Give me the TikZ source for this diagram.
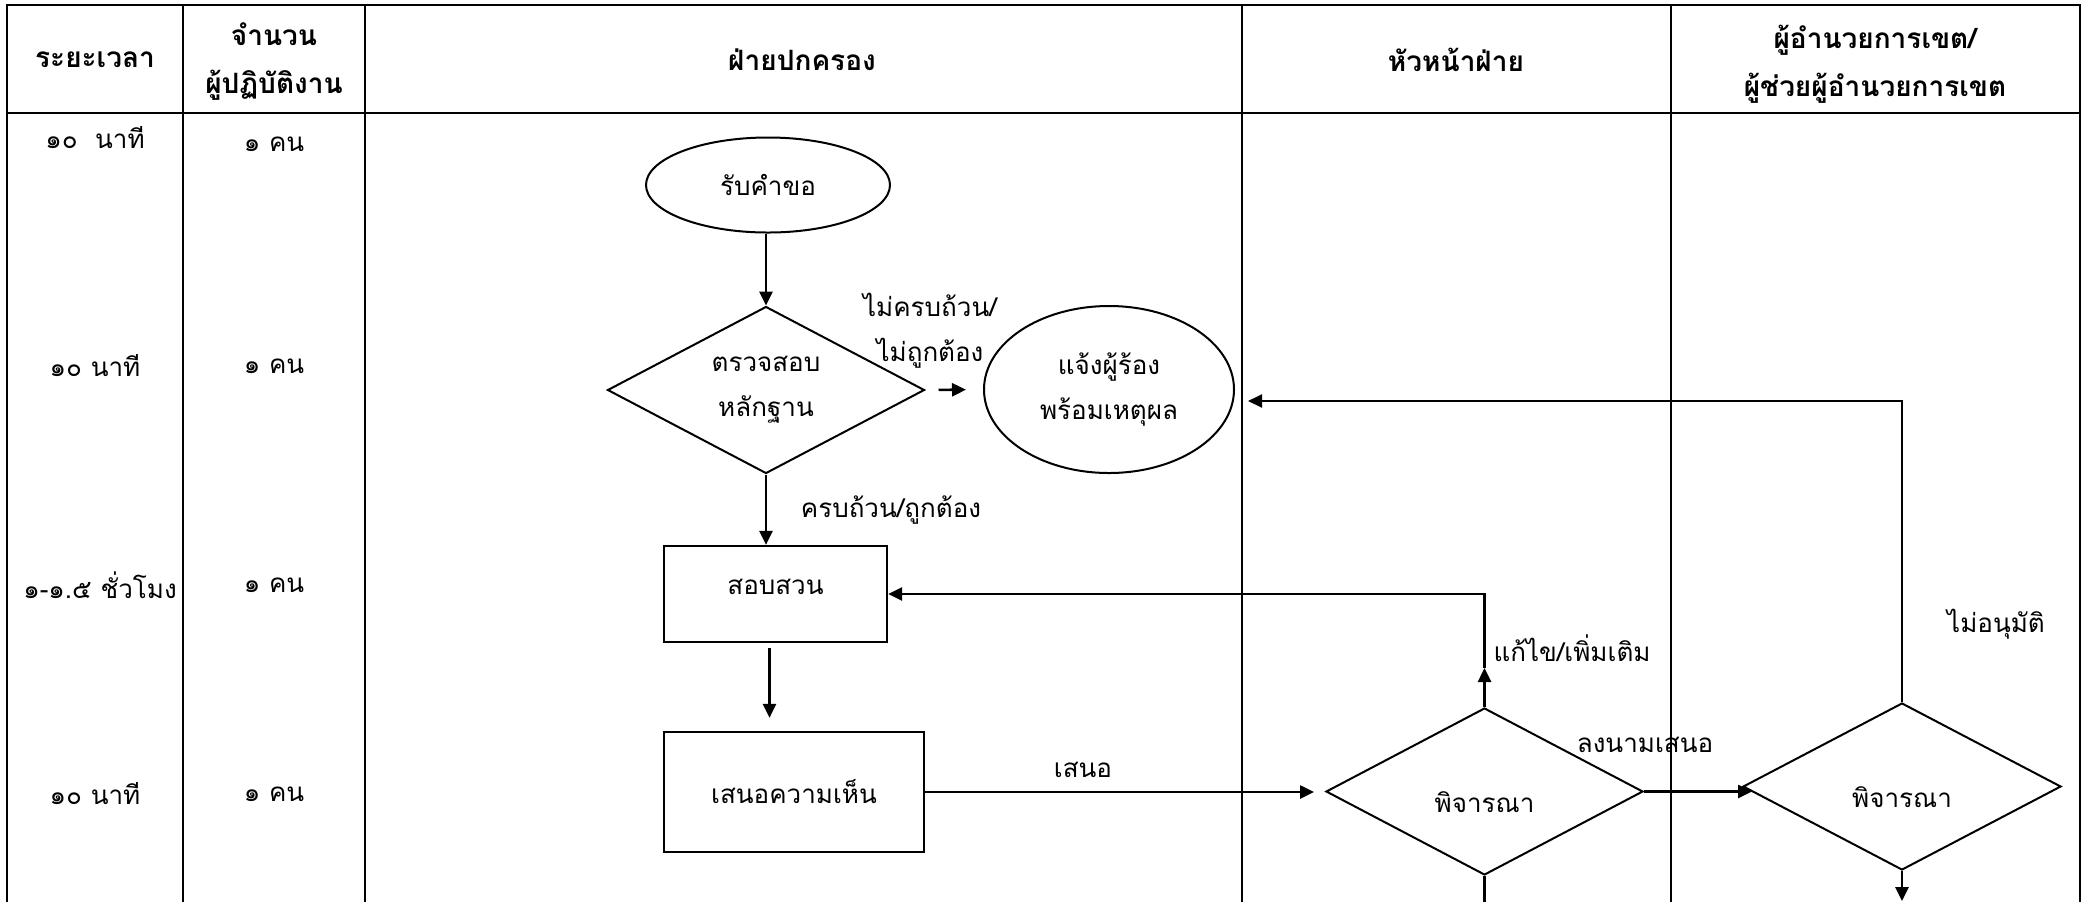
\documentclass[tikz,border=0pt]{standalone}
\usepackage{fontspec}
\setmainfont[Script=Thai]{Loma}
\usetikzlibrary{arrows.meta,shapes.geometric,calc}
\begin{document}
\begin{tikzpicture}[x=0.5pt,y=-0.5pt,
  tbl/.style={line width=1.2pt},
  txt/.style={inner sep=0pt, align=center, font=\fontsize{13}{22.5}\selectfont},
  hdr/.style={txt, font=\fontsize{14}{24}\selectfont\bfseries},
  lbl/.style={txt},
  ell/.style={txt, draw, line width=1pt, shape=ellipse},
  dia/.style={txt, draw, line width=1pt, shape=diamond, shape aspect=1.9},
  box/.style={txt, draw, line width=1.1pt, shape=rectangle},
  conn/.style={line width=1.3pt},
  arr/.style={conn, -{Triangle[length=7pt,width=6.5pt]}},
]
\useasboundingbox (0,0) rectangle (2085,902);
% table
\draw[tbl] (7,902) -- (7,5) -- (2080,5) -- (2080,902);
\draw[tbl] (7,113) -- (2080,113);
\foreach \x in {183,365,1242,1671} \draw[tbl] (\x,5) -- (\x,902);
% headers
\node[hdr] (h1) at (95,60) {ระยะเวลา};
\node[hdr] (h2) at (274,62) {จำนวน\\ผู้ปฏิบัติงาน};
\node[hdr] (h3) at (802,60) {ฝ่ายปกครอง};
\node[hdr] (h4) at (1456,60) {หัวหน้าฝ่าย};
\node[hdr] (h5) at (1875,64) {ผู้อำนวยการเขต/\\ผู้ช่วยผู้อำนวยการเขต};
% time column
\node[txt] (t1) at (95,138) {๑๐\ \ นาที};
\node[txt] (t2) at (95,366) {๑๐ นาที};
\node[txt] (t3) at (100,585) {๑-๑.๕ ชั่วโมง};
\node[txt] (t4) at (95,794) {๑๐ นาที};
% staff column
\node[txt] (p1) at (274,144) {๑ คน};
\node[txt] (p2) at (274,366) {๑ คน};
\node[txt] (p3) at (274,585) {๑ คน};
\node[txt] (p4) at (274,794) {๑ คน};
% flow nodes
\node[ell, minimum width=122pt, minimum height=47.5pt] (rcv) at (768,185) {รับคำขอ};
\node[dia, minimum width=158.5pt, minimum height=83.5pt] (chk) at (766,390) {ตรวจสอบ\\หลักฐาน};
\node[ell, minimum width=125pt, minimum height=83.5pt] (ntf) at (1109,389.5) {แจ้งผู้ร้อง\\พร้อมเหตุผล};
\node[box, minimum width=111.5pt, minimum height=48pt, text depth=7pt] (inv) at (775.5,594) {สอบสวน};
\node[box, minimum width=130pt, minimum height=60pt] (opn) at (794,792) {เสนอความเห็น};
\node[dia, minimum width=158.5pt, minimum height=83.5pt, text height=21pt, text depth=0pt] (hd) at (1484.5,791.5) {พิจารณา};
\node[dia, minimum width=159pt, minimum height=83.5pt, text height=21pt, text depth=0pt] (dir) at (1902,786.5) {พิจารณา};
% labels
\node[lbl] (l1) at (930,331) {ไม่ครบถ้วน/\\ไม่ถูกต้อง};
\node[lbl] (l2) at (891,510) {ครบถ้วน/ถูกต้อง};
\node[lbl] (l3) at (1083,770) {เสนอ};
\node[lbl] (l4) at (1572,648) {แก้ไข/เพิ่มเติม};
\node[lbl] (l5) at (1645,745) {ลงนามเสนอ};
\node[lbl] (l6) at (1996,624) {ไม่อนุมัติ};
% coordinates
\coordinate (up) at (1484.5,668);
\coordinate (hdb) at (1484.5,902);
\coordinate (dirb) at (1902,901);
\coordinate (nr) at ($(ntf.east)+(13,11.5)$);
% connectors
\draw[arr] (rcv.south -| chk.north) -- (chk.north);
\draw[arr, shorten <=6.5pt, shorten >=8.5pt] (chk.east) -- (ntf.west);
\draw[arr] (chk.south) -- (chk.south |- inv.north);
\draw[arr, shorten <=2.5pt, shorten >=6.5pt] ([xshift=-3pt]inv.south) -- ([xshift=-3pt]inv.south |- opn.north);
\draw[arr, shorten >=5.5pt] (opn.east) -- (opn.east -| hd.west);
\draw[arr] (hd.north) -- (up);
\draw[arr] (up) |- (inv.east);
\draw[conn] (hd.south) -- (hdb);
\draw[arr, shorten >=-5pt] (hd.east) -- (hd.east -| dir.west);
\draw[arr, line width=1pt] (dir.north) |- (nr);
\draw[arr] (dir.south) -- (dirb);
\end{tikzpicture}
\end{document}
